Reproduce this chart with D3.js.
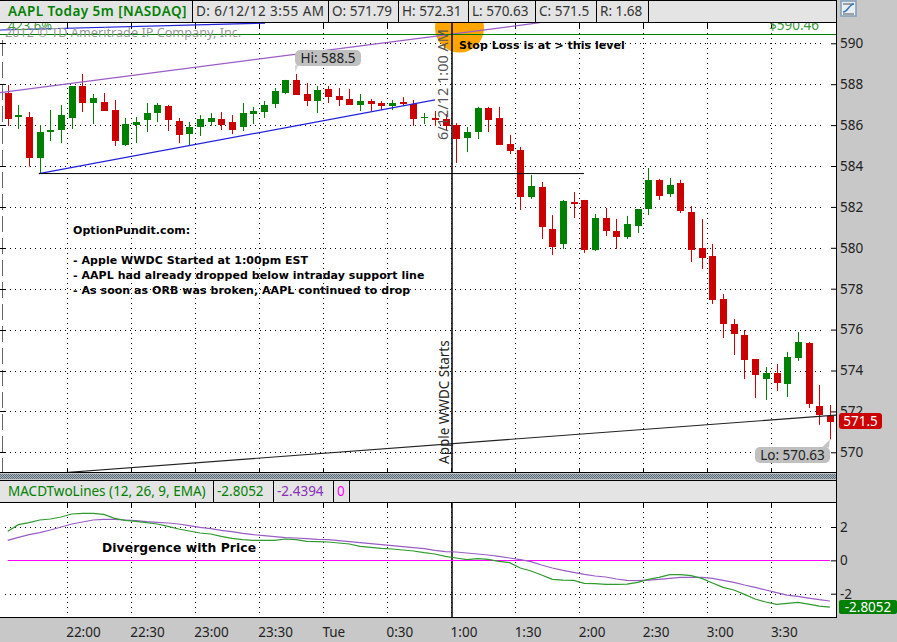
<!DOCTYPE html>
<html lang="en">
<head>
  <meta charset="UTF-8">
  <title>AAPL Today 5m</title>
  <script src="https://d3js.org/d3.v7.min.js"></script>
  <style>
    html, body { margin: 0; padding: 0; background: #c8c8c8; overflow: hidden; }
    svg { display: block; font-family: "Noto Sans", sans-serif; }
    .note { font-family: "DejaVu Sans", sans-serif; font-weight: bold; font-size: 11px; fill: #000; letter-spacing: 0.05px; }
  </style>
</head>
<body>
  <div id="chart"></div>

  <script>
    // prices, one entry per 5 minute candle starting at 21:30
    const opens = [587.59,586.40,586.40,584.41,585.66,585.76,586.35,587.91,587.08,587.13,586.74,585.03,586.00,586.25,586.59,586.93,586.20,585.56,585.91,586.15,586.30,586.15,585.91,586.54,586.64,587.03,587.57,588.21,587.52,587.18,587.77,587.42,587.28,586.98,587.18,587.08,586.93,587.13,587.03,586.35,586.35,586.30,586.00,585.37,585.66,586.84,586.35,585.08,584.78,582.48,582.97,580.92,580.19,582.24,582.34,579.89,581.46,580.82,580.53,581.07,581.90,583.32,582.63,583.17,581.75,579.99,579.60,577.50,576.27,575.74,574.56,573.58,573.88,573.34,574.61,575.35,572.26,571.79];
    const highs = [587.96,586.98,586.64,586.00,586.74,586.98,587.91,588.50,587.52,587.57,587.23,586.35,586.40,587.08,587.08,586.98,586.35,586.15,586.49,586.59,586.64,586.49,587.08,586.89,587.18,587.81,588.21,588.50,588.06,587.91,587.91,587.81,587.77,587.52,587.28,587.18,587.23,587.37,587.23,586.59,586.69,586.54,586.10,585.91,586.89,586.89,586.89,585.52,584.93,583.56,583.22,581.60,582.34,582.73,582.34,581.65,581.95,581.41,581.56,581.90,583.90,583.36,583.41,583.32,582.04,581.41,580.19,577.74,576.52,575.98,574.56,574.17,574.32,574.91,575.88,575.39,573.29,572.31];
    const lows = [585.96,585.81,583.97,583.64,585.22,585.12,585.81,586.64,586.05,586.69,584.98,584.98,585.12,585.66,586.15,585.71,585.12,585.03,585.47,585.96,585.76,585.56,585.71,586.05,586.35,586.84,587.52,587.47,586.93,586.59,587.08,586.93,586.98,586.69,586.69,586.74,586.74,586.93,585.96,586.05,585.96,585.76,584.15,584.68,585.32,585.66,585.03,584.59,581.85,582.39,580.43,579.65,579.94,581.46,579.75,579.84,580.58,579.94,580.43,580.72,581.60,582.34,582.48,581.70,579.31,578.96,577.25,575.59,574.76,573.58,572.66,572.56,573.00,572.70,574.47,572.17,571.34,570.63];
    const closes = [586.31,586.49,584.41,585.66,585.76,586.49,587.91,587.08,587.32,586.69,585.22,586.05,586.15,586.59,586.98,586.25,585.52,585.91,586.30,586.35,586.00,585.76,586.59,586.69,586.98,587.67,588.21,587.47,587.18,587.72,587.37,587.23,586.98,587.18,587.03,586.93,587.08,587.03,586.30,586.40,586.25,585.96,585.32,585.66,586.84,586.25,585.03,584.73,582.48,583.02,581.02,580.04,582.29,582.14,579.89,581.46,580.82,580.53,581.16,581.90,583.32,582.53,583.07,581.80,579.89,579.50,577.45,576.27,575.79,574.51,573.78,573.88,573.39,574.66,575.39,572.36,571.82,571.50];

    const macdValue = [1.74,2.14,2.26,2.42,2.48,2.60,2.78,2.82,2.82,2.76,2.52,2.40,2.34,2.26,2.18,2.04,1.88,1.76,1.64,1.58,1.44,1.32,1.24,1.20,1.20,1.20,1.28,1.24,1.14,1.12,1.10,1.04,0.98,0.84,0.78,0.72,0.68,0.62,0.56,0.46,0.38,0.24,0.14,0.04,0.10,0.06,-0.06,-0.14,-0.46,-0.64,-0.88,-1.14,-1.18,-1.20,-1.38,-1.40,-1.44,-1.44,-1.42,-1.32,-1.14,-1.02,-0.86,-0.86,-0.92,-1.08,-1.36,-1.62,-1.78,-2.04,-2.32,-2.50,-2.64,-2.58,-2.52,-2.62,-2.74,-2.8052];
    const macdAvg = [1.20,1.38,1.54,1.66,1.82,2.00,2.18,2.30,2.42,2.46,2.46,2.42,2.38,2.32,2.28,2.24,2.18,2.08,1.98,1.90,1.80,1.72,1.62,1.54,1.48,1.42,1.36,1.34,1.30,1.26,1.24,1.18,1.12,1.06,1.00,0.94,0.88,0.82,0.76,0.70,0.60,0.52,0.50,0.44,0.38,0.32,0.24,0.14,0.04,-0.08,-0.28,-0.46,-0.60,-0.72,-0.84,-0.94,-1.00,-1.12,-1.20,-1.22,-1.18,-1.14,-1.08,-1.02,-1.02,-1.02,-1.08,-1.20,-1.32,-1.48,-1.62,-1.78,-1.94,-2.08,-2.16,-2.26,-2.36,-2.4394];

    const timeLabels = ["22:00","22:30","23:00","23:30","Tue","0:30","1:00","1:30","2:00","2:30","3:00","3:30"];
    const timeMinutes = [30,60,90,120,150,180,210,240,270,300,330,360];
    const priceTicks = [570,572,574,576,578,580,582,584,586,588,590];
    const macdTicks = [-2,0,2];

    // drawn trend lines as [minutes since 21:30, price]
    const channelTop = [[-1.2,587.59],[251.6,591.01]];
    const channelBottom = [[17,583.63],[202.5,587.23]];
    const upperBlue = [[-1.2,590.65],[122.9,590.99]];
    const supportLine = [[17,583.63],[272.2,583.63]];
    const riseLine = [[26.9,568.99],[390.3,571.82]];
    const stopLevel = 590.46;

    const headerCells = ["AAPL Today 5m [NASDAQ]","D: 6/12/12 3:55 AM","O: 571.79","H: 572.31","L: 570.63","C: 571.5","R: 1.68"];
    const noteLines = ["OptionPundit.com:","","- Apple WWDC Started at 1:00pm EST","- AAPL had already dropped below intraday support line","- As soon as ORB was broken, AAPL continued to drop"];

    const width = 897, height = 642;
    const red = "#cc0000", green = "#008000";
    const labelSize = 13.5;

    const svg = d3.select("#chart").append("svg").attr("width", width).attr("height", height);

    const x = d3.scaleLinear().domain([0, 360]).range([2.6, 771.4]);
    const y = d3.scaleLinear().domain([570, 590]).range([452.3, 43.3]);
    const ym = d3.scaleLinear().domain([-2, 2]).range([593.7, 527.0]);
    const cx = i => x(i * 5 + 2.4);

    const defs = svg.append("defs");
    defs.append("clipPath").attr("id", "clipMain").append("rect")
      .attr("x", 0).attr("y", 23).attr("width", 836).attr("height", 449);
    const hatch = defs.append("pattern").attr("id", "hatch").attr("width", 2).attr("height", 2)
      .attr("patternUnits", "userSpaceOnUse");
    hatch.append("rect").attr("width", 2).attr("height", 2).attr("fill", "#a9b4bc");
    hatch.append("rect").attr("width", 1).attr("height", 1).attr("fill", "#5c6c78");
    hatch.append("rect").attr("x", 1).attr("y", 1).attr("width", 1).attr("height", 1).attr("fill", "#5c6c78");

    // panels
    svg.append("rect").attr("width", width).attr("height", height).attr("fill", "#c8c8c8");
    svg.append("rect").attr("x", 0).attr("y", 23).attr("width", 836).attr("height", 450).attr("fill", "#fff");
    svg.append("rect").attr("x", 0).attr("y", 502).attr("width", 836).attr("height", 115).attr("fill", "#fff");

    // header bars
    const headerEdges = [192.5,328.5,398.5,468.5,535.5,596.5,648.5];
    const headerX = [8,196,332,402,472,539,600];
    svg.append("rect").attr("x", 0).attr("y", 0).attr("width", 836).attr("height", 22).attr("fill", "#e4e4e4");
    svg.selectAll(".hdiv").data(headerEdges).enter().append("line")
      .attr("x1", d => d).attr("x2", d => d).attr("y1", 0).attr("y2", 22).attr("stroke", "#000");
    svg.selectAll(".htxt").data(headerCells).enter().append("text")
      .attr("x", (d, i) => headerX[i]).attr("y", 15.5)
      .attr("font-size", labelSize)
      .attr("letter-spacing", (d, i) => i < 2 ? 0.45 : 0)
      .attr("fill", (d, i) => i === 0 ? green : "#333")
      .attr("font-weight", (d, i) => i === 0 ? 600 : "normal")
      .text(d => d);

    svg.append("rect").attr("x", 0).attr("y", 480).attr("width", 836).attr("height", 22).attr("fill", "#e4e4e4");
    const macdEdges = [213.5,273.5,333.5,349.5];
    svg.selectAll(".mdiv").data(macdEdges).enter().append("line")
      .attr("x1", d => d).attr("x2", d => d).attr("y1", 480).attr("y2", 502).attr("stroke", "#000");
    const macdHead = [["MACDTwoLines (12, 26, 9, EMA)",8,green],["-2.8052",217,green],["-2.4394",277,"#8a2fb8"],["0",337,"#ff00ff"]];
    svg.selectAll(".mtxt").data(macdHead).enter().append("text")
      .attr("x", d => d[1]).attr("y", 495.5).attr("font-size", labelSize).attr("fill", d => d[2]).text(d => d[0]);

    // splitter
    svg.append("rect").attr("x", 0).attr("y", 474).attr("width", 836).attr("height", 5).attr("fill", "url(#hatch)");

    // grid
    const gridColor = "#000";
    const main = svg.append("g");
    const vGrid = (y1, y2) => main.selectAll(null).data(timeMinutes).enter().append("line")
      .attr("x1", d => Math.round(x(d)) + 0.5).attr("x2", d => Math.round(x(d)) + 0.5)
      .attr("y1", y1).attr("y2", y2)
      .attr("stroke", gridColor).attr("stroke-dasharray", "1 4");
    vGrid(28, 473);
    vGrid(507, 617);
    main.selectAll(null).data(priceTicks).enter().append("line")
      .attr("x1", 5).attr("x2", 823).attr("y1", d => Math.round(y(d)) + 0.5).attr("y2", d => Math.round(y(d)) + 0.5)
      .attr("stroke", gridColor).attr("stroke-dasharray", "1 4");
    main.selectAll(null).data(macdTicks.filter(d => d !== 0)).enter().append("line")
      .attr("x1", 5).attr("x2", 823).attr("y1", d => Math.round(ym(d)) + 0.5).attr("y2", d => Math.round(ym(d)) + 0.5)
      .attr("stroke", gridColor).attr("stroke-dasharray", "1 4");

    // short tick marks at the panel edges
    [[22,28],[502,507],[468,473]].forEach(r => {
      main.selectAll(null).data(timeMinutes).enter().append("line")
        .attr("x1", d => Math.round(x(d)) + 0.5).attr("x2", d => Math.round(x(d)) + 0.5)
        .attr("y1", r[0]).attr("y2", r[1]).attr("stroke", "#000");
    });

    // left edge dashes
    svg.append("line").attr("x1", 2.5).attr("x2", 2.5).attr("y1", 40).attr("y2", 473)
      .attr("stroke", "#666").attr("stroke-dasharray", "16 6");
    svg.selectAll(null).data(priceTicks).enter().append("line")
      .attr("x1", 0).attr("x2", 6).attr("y1", d => Math.round(y(d)) + 0.5).attr("y2", d => Math.round(y(d)) + 0.5)
      .attr("stroke", "#000");

    const overlay = svg.append("g").attr("clip-path", "url(#clipMain)");

    // stop loss marker
    overlay.append("circle").attr("cx", 459.5).attr("cy", 28).attr("r", 24.5).attr("fill", "#ffa500");

    // candles
    const idx = d3.range(opens.length);
    const candleColors = i => closes[i] >= opens[i] ? green : red;
    overlay.selectAll(".wick").data(idx).enter().append("line")
      .attr("x1", i => Math.round(cx(i)) + 0.5).attr("x2", i => Math.round(cx(i)) + 0.5)
      .attr("y1", i => y(highs[i])).attr("y2", i => y(lows[i]))
      .attr("stroke", candleColors);
    overlay.selectAll(".body").data(idx).enter().append("rect")
      .attr("x", i => Math.round(cx(i)) - 3)
      .attr("width", 7)
      .attr("y", i => Math.round(y(Math.max(opens[i], closes[i]))))
      .attr("height", i => Math.max(1, Math.round(Math.abs(y(opens[i]) - y(closes[i])))))
      .attr("fill", candleColors);

    // trend lines
    const tl = d3.line().x(d => x(d[0])).y(d => y(d[1]));
    const drawTrend = (pts, color, w) => overlay.append("path").attr("d", tl(pts))
      .attr("fill", "none").attr("stroke", color).attr("stroke-width", w || 1);
    drawTrend(channelTop, "#9a5cc6", 1.2);
    drawTrend(channelBottom, "#2222dd", 1.2);
    drawTrend(upperBlue, "#2222dd", 1.2);
    drawTrend(supportLine, "#000", 1);
    drawTrend(riseLine, "#222", 1.1);

    overlay.append("line").attr("x1", 0).attr("x2", 836)
      .attr("y1", Math.round(y(stopLevel)) + 0.5).attr("y2", Math.round(y(stopLevel)) + 0.5)
      .attr("stroke", green);

    // 1:00 marker line
    svg.append("line").attr("x1", 452).attr("x2", 452).attr("y1", 22).attr("y2", 473).attr("stroke", "#000").attr("stroke-width", 1.5);
    svg.append("line").attr("x1", 452).attr("x2", 452).attr("y1", 502).attr("y2", 617).attr("stroke", "#000").attr("stroke-width", 1.5);

    // small labels clipped by the top of the panel
    const clipped = svg.append("g").attr("clip-path", "url(#clipMain)");
    clipped.append("text").attr("x", 8).attr("y", 29.5).attr("font-size", 13).attr("fill", "#3a9a3a").text("423.6%");
    clipped.append("text").attr("x", 769).attr("y", 30).attr("font-size", labelSize).attr("fill", "#3a9a3a").text("$" + stopLevel);
    clipped.append("text").attr("x", 5).attr("y", 37).attr("font-size", 12.7).attr("fill", "#999").text("2012 © TD Ameritrade IP Company, Inc.");

    // annotations
    svg.append("text").attr("class", "note").attr("x", 459).attr("y", 49).text("Stop Loss is at > this level");
    svg.selectAll(".noteline").data(noteLines).enter().append("text")
      .attr("class", "note").attr("x", 73).attr("y", (d, i) => 234 + i * 15).text(d => d);
    svg.append("text").attr("class", "note").attr("x", 102).attr("y", 552).style("font-size", "12.3px").style("letter-spacing", "0.1px").text("Divergence with Price");

    svg.append("text").attr("transform", "translate(448,140) rotate(-90)").attr("font-size", 14.5).attr("fill", "#555").text("6/12/12 1:00 AM");
    svg.append("text").attr("transform", "translate(449,464) rotate(-90)").attr("font-size", labelSize).attr("fill", "#222").text("Apple WWDC Starts");

    // high and low bubbles
    const hiY = y(d3.max(highs)), loY = y(d3.min(lows));
    svg.append("path").attr("d", d3.line()([[cx(27) - 1, hiY - 9], [cx(27) - 1, hiY - 2], [cx(27) + 3, hiY - 9]])).attr("fill", "#d8d8d8");
    svg.append("rect").attr("x", 295).attr("y", 50).attr("width", 66).attr("height", 16).attr("rx", 5).attr("fill", "#c0c0c0");
    svg.append("text").attr("x", 328).attr("y", 63).attr("text-anchor", "middle").attr("font-size", labelSize).attr("fill", "#222").text("Hi: " + d3.max(highs));
    svg.append("path").attr("d", d3.line()([[cx(77) - 8, loY + 8], [cx(77), loY], [cx(77) - 1, loY + 8]])).attr("fill", "#c4c4c4");
    svg.append("rect").attr("x", 755).attr("y", 447).attr("width", 75).attr("height", 16).attr("rx", 5).attr("fill", "#c0c0c0");
    svg.append("text").attr("x", 792.5).attr("y", 460).attr("text-anchor", "middle").attr("font-size", labelSize).attr("fill", "#222").text("Lo: " + d3.min(lows));

    // macd lines
    const ml = d3.line().x((d, i) => cx(i)).y(d => ym(d));
    svg.append("line").attr("x1", cx(0)).attr("x2", cx(77)).attr("y1", Math.round(ym(0)) + 0.5).attr("y2", Math.round(ym(0)) + 0.5).attr("stroke", "#ff00ff");
    svg.append("path").datum(macdAvg).attr("d", ml).attr("fill", "none").attr("stroke", "#9a5cc6").attr("stroke-width", 1.2);
    svg.append("path").datum(macdValue).attr("d", ml).attr("fill", "none").attr("stroke", "#2f9a2f").attr("stroke-width", 1.2);

    // price axis with d3
    const priceAxis = d3.axisRight(y).tickValues(priceTicks).tickSize(5).tickPadding(3).tickFormat(d3.format("d"));
    const pa = svg.append("g").attr("transform", "translate(831,0)").call(priceAxis);
    const macdAxis = d3.axisRight(ym).tickValues(macdTicks).tickSize(5).tickPadding(3).tickFormat(d => d);
    const ma = svg.append("g").attr("transform", "translate(831,0)").call(macdAxis);
    [pa, ma].forEach(g => {
      g.select(".domain").remove();
      g.selectAll("text").attr("font-size", labelSize).attr("font-family", "Noto Sans").attr("fill", "#222").attr("x", 9);
    });

    // time axis
    const timeAxis = d3.axisBottom(x).tickValues(timeMinutes).tickSize(0).tickPadding(0)
      .tickFormat((d, i) => timeLabels[i]);
    const ta = svg.append("g").attr("transform", "translate(0,627.5)").call(timeAxis);
    ta.select(".domain").remove();
    ta.selectAll("text").attr("font-size", labelSize).attr("font-family", "Noto Sans").attr("fill", "#222")
      .attr("text-anchor", "start").attr("dx", -1);

    // frame lines
    const frame = [[0,0.5,836,0.5],[0,22.5,836,22.5],[0,472.5,836,472.5],[0,480.5,836,480.5],[0,502.5,836,502.5],[0,617.5,836,617.5],[836.5,0,836.5,618]];
    svg.selectAll(".frame").data(frame).enter().append("line")
      .attr("x1", d => d[0]).attr("y1", d => d[1]).attr("x2", d => d[2]).attr("y2", d => d[3])
      .attr("stroke", "#000");

    // last value tags
    svg.append("rect").attr("x", 839).attr("y", 413).attr("width", 43).attr("height", 16).attr("rx", 3).attr("fill", red);
    svg.append("text").attr("x", 860.5).attr("y", 426).attr("text-anchor", "middle").attr("font-size", labelSize).attr("fill", "#fff").text(closes[77]);
    svg.append("rect").attr("x", 839).attr("y", 600).attr("width", 58).attr("height", 14).attr("rx", 2).attr("fill", green);
    svg.append("text").attr("x", 868).attr("y", 612).attr("text-anchor", "middle").attr("font-size", labelSize).attr("fill", "#fff").text(macdValue[77]);

    // study icon
    svg.append("rect").attr("x", 841).attr("y", 1).attr("width", 15).attr("height", 15).attr("fill", "#e8eef4").attr("stroke", "#7f9db9").attr("stroke-width", 1.5);
    svg.append("path").attr("d", "M843 4H854M843 14H854").attr("stroke", "#555");
    svg.append("path").attr("d", "M843 12 C848 12 849 4 854 4").attr("fill", "none").attr("stroke", "#3a78b8").attr("stroke-width", 1.5);
  </script>
</body>
</html>
